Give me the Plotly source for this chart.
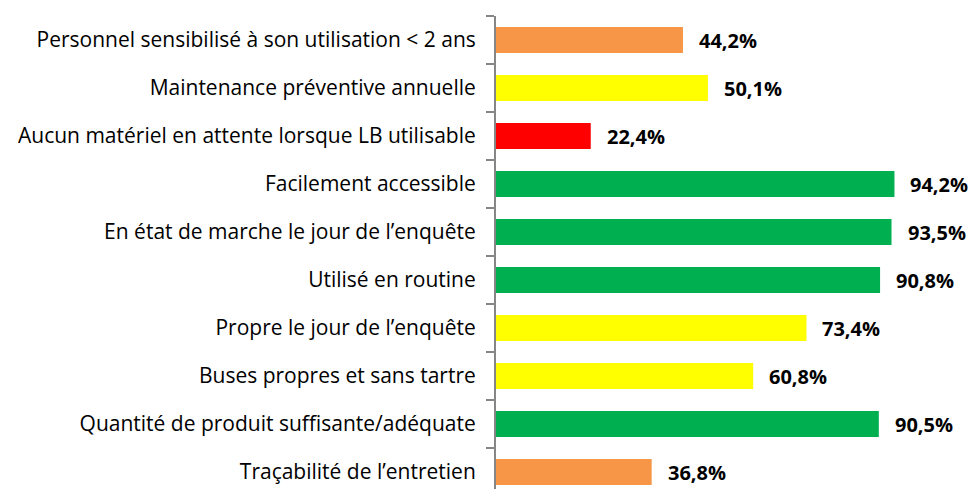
import plotly.graph_objects as go

categories = [
    "Personnel sensibilisé à son utilisation < 2 ans",
    "Maintenance préventive annuelle",
    "Aucun matériel en attente lorsque LB utilisable",
    "Facilement accessible",
    "En état de marche le jour de l’enquête",
    "Utilisé en routine",
    "Propre le jour de l’enquête",
    "Buses propres et sans tartre",
    "Quantité de produit suffisante/adéquate",
    "Traçabilité de l’entretien",
]
values = [44.2, 50.1, 22.4, 94.2, 93.5, 90.8, 73.4, 60.8, 90.5, 36.8]
bar_colors = ["#F79646", "#FFFF00", "#FF0000", "#00B050", "#00B050",
              "#00B050", "#FFFF00", "#FFFF00", "#00B050", "#F79646"]
value_labels = [f"{v:.1f}%".replace(".", ",") for v in values]

FONT = "Open Sans"

fig = go.Figure()
fig.add_trace(go.Bar(
    y=categories, x=values, orientation="h",
    marker=dict(color=bar_colors, line=dict(width=0)),
    width=0.54, hoverinfo="skip",
))

for c, v, t in zip(categories, values, value_labels):
    fig.add_annotation(x=v, y=c, text=f"<b>{t}</b>", showarrow=False,
                       xanchor="left", xshift=14,
                       font=dict(family=FONT, size=20, color="#000000"))

fig.update_layout(
    width=971, height=496,
    margin=dict(l=496, r=52, t=16, b=0),
    paper_bgcolor="white", plot_bgcolor="white",
    showlegend=False,
    font=dict(family=FONT, size=21, color="#000000"),
    xaxis=dict(range=[0, 100], visible=False, fixedrange=True),
    yaxis=dict(
        categoryorder="array", categoryarray=categories[::-1],
        showline=True, linecolor="#868686", linewidth=2,
        ticks="outside", ticklen=8, tickcolor="#868686", tickwidth=2,
        tickson="boundaries", ticklabelstandoff=14,
        showgrid=False, zeroline=False, fixedrange=True,
        tickfont=dict(family=FONT, size=21, color="#000000"),
    ),
)

fig.write_html(
    "out.html",
    config={"displayModeBar": False, "staticPlot": True},
    post_script="document.body.style.margin='0';document.body.style.overflow='hidden';",
)
